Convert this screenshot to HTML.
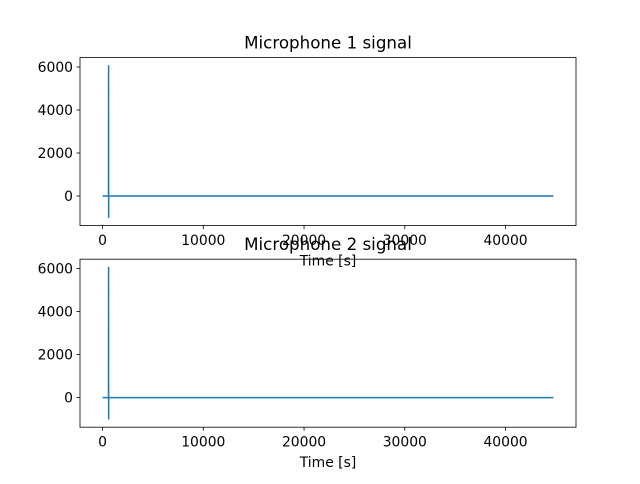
<!DOCTYPE html>
<html><head><meta charset="utf-8"><style>
body{margin:0;background:#fff;font-family:"DejaVu Sans","Liberation Sans",sans-serif}
svg text{font-family:"DejaVu Sans","Liberation Sans",sans-serif;fill:#000}
</style></head><body>
<svg id="fig" width="640" height="480"></svg>
<script>
const sampleIdx=[0,590,600,605,610,44755];
const mic1Values=[0,0,6080,-1020,0,0];
const mic2Values=[0,0,6080,-1020,0,0];
const xTicks=[0,10000,20000,30000,40000];
const yTicks=[0,2000,4000,6000];
const titles=["Microphone 1 signal","Microphone 2 signal"];
const NS="http://www.w3.org/2000/svg";
const svg=document.getElementById('fig');
function mk(t,a,p){const e=document.createElementNS(NS,t);for(const k in a)e.setAttribute(k,a[k]);(p||svg).appendChild(e);return e;}
const L=80,R=576,H=168;
const xmin=-2238,xmax=46993;
const ymin=-1377,ymax=6437;
[[57.6,mic1Values],[259.2,mic2Values]].forEach(([top,vals],i)=>{
  const g=mk('g',{});
  
  
  const xs=v=>L+(v-xmin)/(xmax-xmin)*(R-L);
  const ys=v=>top+H-(v-ymin)/(ymax-ymin)*H;
  const pts=sampleIdx.map((t,j)=>xs(t)+','+ys(vals[j])).join(' ');
  const line=mk('polyline',{points:pts,fill:'none',stroke:'#1f77b4','stroke-width':1.5},g);
  
  
  const fr=mk('rect',{x:L,y:top,width:R-L,height:H,fill:'none',stroke:'#000','stroke-width':0.8},g);
  
  
  xTicks.forEach(v=>{const x=xs(v);mk('line',{x1:x,x2:x,y1:top+H,y2:top+H+3.5,stroke:'#000','stroke-width':0.8},g);
    const t=mk('text',{x:x,y:top+H+19.5,'font-size':13.9,'text-anchor':'middle'},g);t.textContent=v;
    
    });
  yTicks.forEach(v=>{const y=ys(v);mk('line',{x1:L-3.5,x2:L,y1:y,y2:y,stroke:'#000','stroke-width':0.8},g);
    const t=mk('text',{x:L-7,y:y+5,'font-size':13.9,'text-anchor':'end'},g);t.textContent=v;
    
    });
  const xl=mk('text',{x:(L+R)/2,y:top+H+40,'font-size':13.9,'text-anchor':'middle'},g);xl.textContent='Time [s]';
  
  
  const tt=mk('text',{x:(L+R)/2,y:top-9,'font-size':16.7,'text-anchor':'middle'},g);tt.textContent=titles[i];
  
  
});
</script>
</body></html>
